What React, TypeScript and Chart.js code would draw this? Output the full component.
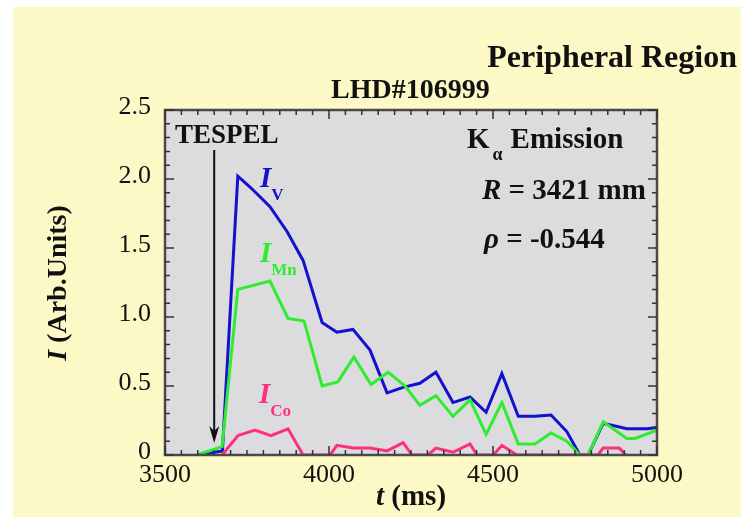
import { useEffect, useRef } from 'react';
import { Chart, registerables } from 'chart.js';

Chart.register(...registerables);

// Time base (ms) and intensities (arb. units) for each Kα line
const timeV = [3600, 3675, 3722, 3760, 3820, 3872, 3921, 3979, 4024, 4073, 4125, 4177, 4226, 4277, 4326, 4378, 4430, 4479, 4527, 4577, 4628, 4677, 4725, 4765, 4790, 4836, 4908, 4970, 5000];
const intensityV = [0.0, 0.03, 2.02, 1.94, 1.80, 1.62, 1.41, 0.96, 0.89, 0.91, 0.76, 0.45, 0.49, 0.52, 0.60, 0.38, 0.42, 0.31, 0.59, 0.28, 0.28, 0.29, 0.17, 0.0, 0.0, 0.23, 0.19, 0.19, 0.20];

const timeMn = [3597, 3674, 3722, 3820, 3875, 3924, 3979, 4027, 4076, 4128, 4180, 4232, 4277, 4326, 4378, 4430, 4479, 4527, 4577, 4628, 4677, 4725, 4765, 4790, 4836, 4908, 4933, 5000];
const intensityMn = [0.0, 0.06, 1.20, 1.26, 0.99, 0.97, 0.50, 0.53, 0.71, 0.51, 0.60, 0.50, 0.36, 0.43, 0.28, 0.40, 0.15, 0.38, 0.08, 0.08, 0.16, 0.10, 0.0, 0.0, 0.24, 0.12, 0.12, 0.18];

const timeCo = [3674, 3722, 3774, 3823, 3875, 3921, 4003, 4024, 4073, 4125, 4177, 4226, 4253, 4302, 4326, 4378, 4430, 4451, 4501, 4527, 4573, 4820, 4836, 4885, 4905];
const intensityCo = [0, 0.14, 0.18, 0.14, 0.19, 0, 0, 0.07, 0.05, 0.05, 0.03, 0.09, 0, 0, 0.05, 0.02, 0.08, 0, 0, 0.07, 0, 0, 0.05, 0.05, 0];

const xRange = [3500, 5000];
const yRange = [0, 2.5];
const xTickStep = 500;
const yTickStep = 0.5;
const tespelTime = 3650;

const SERIF = '"Liberation Serif", "Times New Roman", serif';
const BLUE = '#1212cc';
const GREEN = '#30ec30';
const PINK = '#ff2f7d';

type Run = { text: string; font: string; dy?: number; dx?: number; color?: string };

function drawRuns(ctx: CanvasRenderingContext2D, x: number, y: number, runs: Run[], align: 'left' | 'center' | 'right' = 'left') {
  ctx.save();
  ctx.textBaseline = 'alphabetic';
  ctx.textAlign = 'left';
  let total = 0;
  for (const r of runs) {
    ctx.font = r.font;
    total += ctx.measureText(r.text).width + (r.dx || 0);
  }
  let cx = align === 'left' ? x : align === 'center' ? x - total / 2 : x - total;
  for (const r of runs) {
    ctx.font = r.font;
    if (r.color) ctx.fillStyle = r.color;
    cx += r.dx || 0;
    ctx.fillText(r.text, cx, y + (r.dy || 0));
    cx += ctx.measureText(r.text).width;
  }
  ctx.restore();
}

const decorPlugin = {
  id: 'decor',
  beforeDraw(chart: any) {
    const { ctx, chartArea: a, width, height } = chart;
    ctx.save();
    ctx.fillStyle = '#ffffff';
    ctx.fillRect(0, 0, width, height);
    ctx.fillStyle = '#fcf9c6';
    ctx.fillRect(13, 7, width - 13, height - 7);
    ctx.fillStyle = '#dcdcde';
    ctx.fillRect(a.left, a.top, a.right - a.left, a.bottom - a.top);
    ctx.restore();
  },
  afterDatasetsDraw(chart: any) {
    const { ctx, chartArea: a, scales } = chart;
    const xs = scales.x;
    const ys = scales.y;
    ctx.save();
    // frame
    ctx.strokeStyle = '#4a4a4a';
    ctx.lineWidth = 2.5;
    ctx.strokeRect(a.left, a.top, a.right - a.left, a.bottom - a.top);
    // inward ticks
    ctx.lineWidth = 1.5;
    ctx.strokeStyle = '#333';
    ctx.beginPath();
    for (let t = xRange[0]; t <= xRange[1] + 0.1; t += 50) {
      const px = xs.getPixelForValue(t);
      const len = Math.abs(t % 500) < 1e-6 ? 9 : 5;
      ctx.moveTo(px, a.bottom);
      ctx.lineTo(px, a.bottom - len);
      ctx.moveTo(px, a.top);
      ctx.lineTo(px, a.top + len);
    }
    for (let i = 0; i <= 25; i++) {
      const v = i / 10;
      const py = ys.getPixelForValue(v);
      const len = i % 5 === 0 ? 9 : 5;
      ctx.moveTo(a.left, py);
      ctx.lineTo(a.left + len, py);
      ctx.moveTo(a.right, py);
      ctx.lineTo(a.right - len, py);
    }
    ctx.stroke();

    // TESPEL injection arrow
    const ax = xs.getPixelForValue(tespelTime);
    ctx.strokeStyle = '#111';
    ctx.fillStyle = '#111';
    ctx.lineWidth = 2;
    ctx.beginPath();
    ctx.moveTo(ax, 150);
    ctx.lineTo(ax, 432);
    ctx.stroke();
    ctx.beginPath();
    ctx.moveTo(ax - 5, 426);
    ctx.lineTo(ax, 443);
    ctx.lineTo(ax + 5, 426);
    ctx.lineTo(ax, 431);
    ctx.closePath();
    ctx.fill();

    ctx.fillStyle = '#111';
    drawRuns(ctx, 175, 143, [{ text: 'TESPEL', font: `bold 27px ${SERIF}` }]);

    // series labels
    const iFont = `italic bold 29px ${SERIF}`;
    const subFont = `bold 17px ${SERIF}`;
    drawRuns(ctx, 260, 187, [
      { text: 'I', font: iFont, color: BLUE },
      { text: 'V', font: subFont, dy: 13, color: BLUE },
    ]);
    drawRuns(ctx, 260, 262, [
      { text: 'I', font: iFont, color: GREEN },
      { text: 'Mn', font: subFont, dy: 13, color: GREEN },
    ]);
    drawRuns(ctx, 259, 403, [
      { text: 'I', font: iFont, color: PINK },
      { text: 'Co', font: subFont, dy: 13, color: PINK },
    ]);

    // measurement info
    ctx.fillStyle = '#111';
    const bold = `bold 29px ${SERIF}`;
    const boldIt = `italic bold 29px ${SERIF}`;
    drawRuns(ctx, 467, 148, [
      { text: 'K', font: bold },
      { text: 'α', font: `bold 18px ${SERIF}`, dy: 12, dx: 3 },
      { text: 'Emission', font: bold, dx: 8 },
    ]);
    drawRuns(ctx, 482, 199, [
      { text: 'R', font: boldIt },
      { text: ' = 3421 mm', font: bold },
    ]);
    drawRuns(ctx, 484, 248, [
      { text: 'ρ', font: boldIt },
      { text: ' = -0.544', font: bold },
    ]);

    // titles
    drawRuns(ctx, 737, 67, [{ text: 'Peripheral Region', font: `bold 32px ${SERIF}` }], 'right');
    drawRuns(ctx, 331, 98, [{ text: 'LHD#106999', font: `bold 28px ${SERIF}` }]);
    drawRuns(ctx, (a.left + a.right) / 2, 505, [
      { text: 't', font: boldIt },
      { text: ' (ms)', font: bold },
    ], 'center');
    ctx.save();
    ctx.translate(66, 283);
    ctx.rotate(-Math.PI / 2);
    drawRuns(ctx, 0, 0, [
      { text: 'I', font: `italic bold 28px ${SERIF}` },
      { text: ' (Arb.Units)', font: `bold 28px ${SERIF}` },
    ], 'center');
    ctx.restore();
    ctx.restore();
  },
};

const toPoints = (ts: number[], vs: number[]) => ts.map((t, i) => ({ x: t, y: vs[i] }));

export default function App() {
  const canvasRef = useRef<HTMLCanvasElement | null>(null);

  useEffect(() => {
    if (!canvasRef.current) return;
    const chart = new Chart(canvasRef.current, {
      type: 'line',
      data: {
        datasets: [
          { label: 'I_Co', data: toPoints(timeCo, intensityCo), borderColor: PINK, borderWidth: 3, pointRadius: 0, tension: 0 },
          { label: 'I_Mn', data: toPoints(timeMn, intensityMn), borderColor: GREEN, borderWidth: 3, pointRadius: 0, tension: 0 },
          { label: 'I_V', data: toPoints(timeV, intensityV), borderColor: BLUE, borderWidth: 3, pointRadius: 0, tension: 0 },
        ],
      },
      options: {
        animation: false,
        responsive: true,
        maintainAspectRatio: false,
        layout: { padding: { top: 110, right: 84, left: 0, bottom: 0 } },
        plugins: { legend: { display: false }, tooltip: { enabled: false }, title: { display: false } },
        scales: {
          x: {
            type: 'linear',
            min: xRange[0],
            max: xRange[1],
            grid: { display: false, drawTicks: false },
            border: { display: false },
            ticks: {
              stepSize: xTickStep,
              padding: 5,
              color: '#111',
              font: { family: SERIF, size: 26 },
              callback: (v: any) => String(v),
            },
            afterFit: (s: any) => { s.height = 62; },
          },
          y: {
            type: 'linear',
            min: yRange[0],
            max: yRange[1],
            grid: { display: false, drawTicks: false },
            border: { display: false },
            ticks: {
              stepSize: yTickStep,
              padding: 14,
              labelOffset: -3,
              color: '#111',
              font: { family: SERIF, size: 26 },
              callback: (v: any) => (Number(v) === 0 ? '0' : Number(v).toFixed(1)),
            },
            afterFit: (s: any) => { s.width = 165; },
          },
        },
      },
      plugins: [decorPlugin],
    });
    return () => chart.destroy();
  }, []);

  return (
    <div style={{ position: 'fixed', left: 0, top: 0, width: 741, height: 517 }}>
      <canvas ref={canvasRef} />
    </div>
  );
}
